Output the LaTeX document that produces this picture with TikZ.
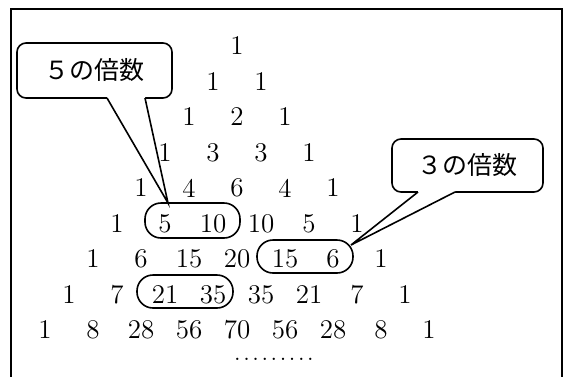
\documentclass[tikz,border=0pt]{standalone}
\usepackage{fontspec}
\newfontfamily\jp{Noto Sans CJK JP}
\begin{document}
\begin{tikzpicture}[x=0.5pt,y=-0.5pt,
  num/.style={inner sep=0pt,font=\fontsize{13.5}{15}\selectfont},
  grp/.style={draw,line width=0.8pt,rounded corners=8pt,inner sep=0pt},
  callout/.style={draw,line width=0.8pt,rounded corners=4.5pt,inner sep=0pt,fill=white,font=\jp\fontsize{12.5}{14}\selectfont},
  ptr/.style={line width=0.8pt,line join=miter}]
\useasboundingbox (0,0) rectangle (568,376);
% frame
\coordinate (fa) at (11,390);
\coordinate (fb) at (11,9);
\coordinate (fc) at (562,9);
\coordinate (fd) at (562,390);
\draw[line width=0.8pt] (fa) -- (fb) -- (fc) -- (fd);
% Pascal triangle
\foreach \r/\vals in {0/{1},1/{1,1},2/{1,2,1},3/{1,3,3,1},4/{1,4,6,4,1},5/{1,5,10,10,5,1},6/{1,6,15,20,15,6,1},7/{1,7,21,35,35,21,7,1},8/{1,8,28,56,70,56,28,8,1}}{
  \foreach \v [count=\k from 0] in \vals {
    \node[num] (n\r-\k) at ({237+24*(2*\k-\r)},{46+35.5*\r}) {\v};
  }
}
\node[num,anchor=base,font=\fontsize{12}{12}\selectfont] (dots) at (274,360) {.\kern1.3pt.\kern1.3pt.\kern1.3pt.\kern1.3pt.\kern1.3pt.\kern1.3pt.\kern1.3pt.\kern1.3pt.};
% group boxes
\node[grp,minimum width=47.5pt,minimum height=17.5pt] (g5) at (192.5,220.5) {};
\node[grp,minimum width=48pt,minimum height=16.5pt] (g6) at (305,256.5) {};
\node[grp,minimum width=48pt,minimum height=16.5pt] (g7) at (185,291.5) {};
% callout 5
\node[callout,minimum width=77.5pt,minimum height=27.5pt] (c5) at (94.5,70.5) {５の倍数};
\coordinate (t5) at (168,203);
\coordinate (a5) at (107,98);
\coordinate (b5) at (145,98);
\fill[white] (107,96) -- (a5) -- (t5) -- (b5) -- (145,96) -- cycle;
\draw[ptr] (a5) -- (t5) -- (b5);
% callout 3
\node[callout,minimum width=75.5pt,minimum height=26.5pt] (c3) at (467.5,165.5) {３の倍数};
\coordinate (t3) at (351,245);
\coordinate (a3) at (418,192);
\coordinate (b3) at (455,192);
\fill[white] (418,190) -- (a3) -- (t3) -- (b3) -- (455,190) -- cycle;
\draw[ptr] (a3) -- (t3) -- (b3);
\end{tikzpicture}
\end{document}
